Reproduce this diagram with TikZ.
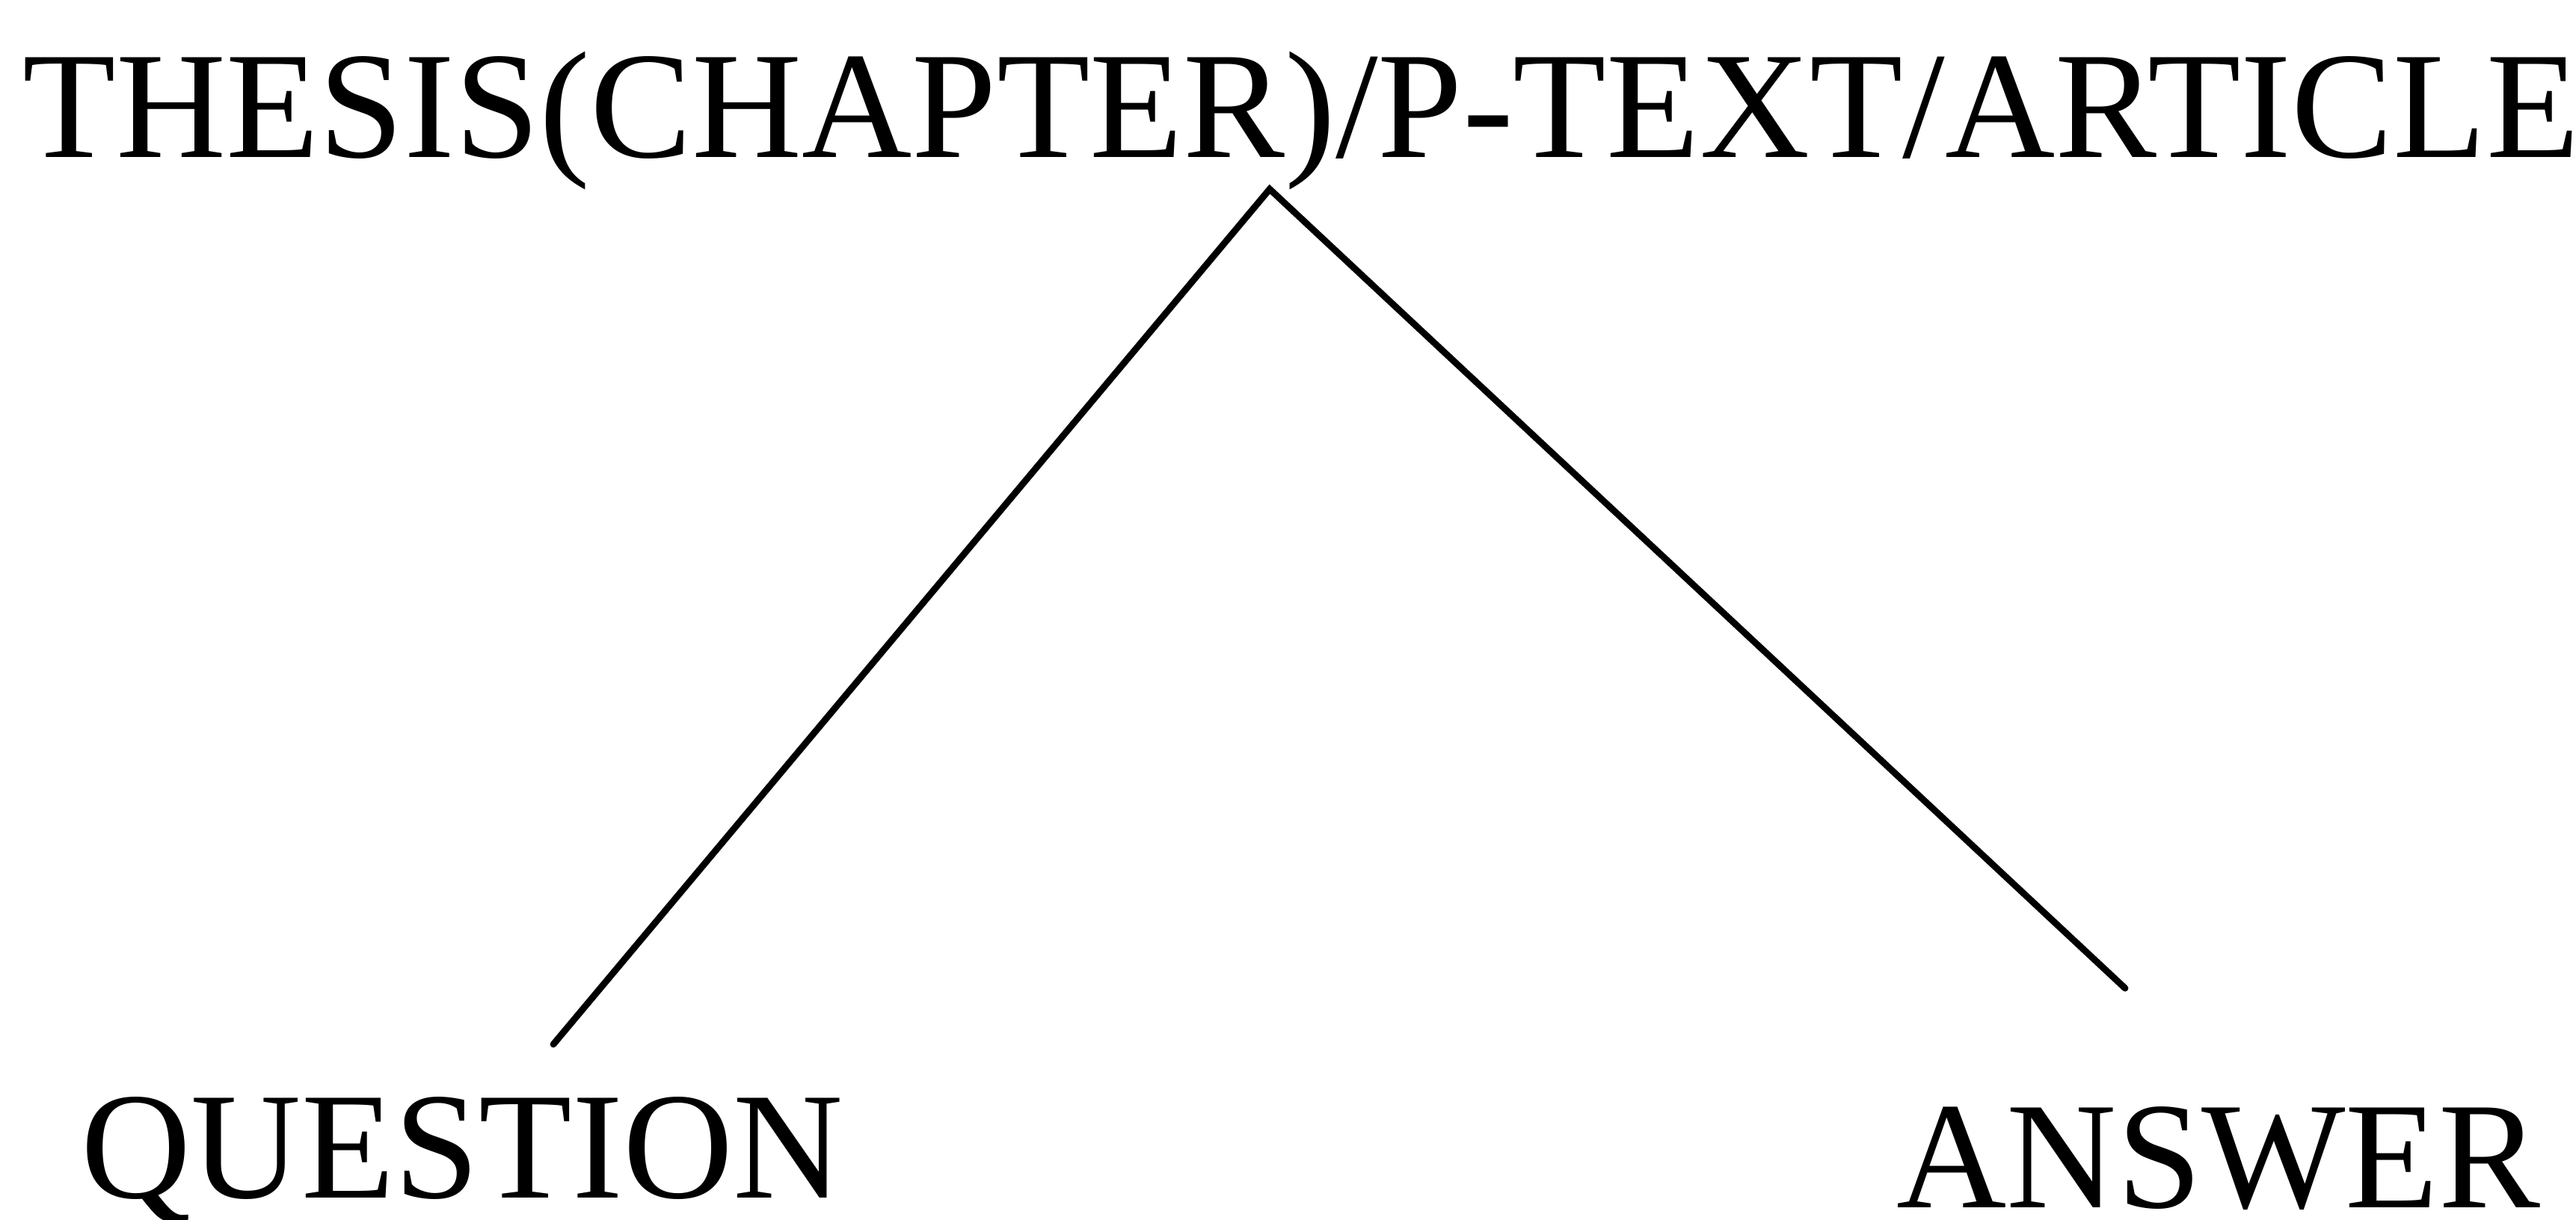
\documentclass[tikz,border=0pt]{standalone}
\usepackage{fontspec}
\setmainfont{Liberation Serif}
\usetikzlibrary{positioning}

\begin{document}
\begin{tikzpicture}[
  every node/.style={inner sep=0pt,anchor=base west,font=\fontsize{58}{60}\selectfont},
  edge/.style={line width=2.5pt,line cap=round}
]
\useasboundingbox (0,0) rectangle (34.45,16.31);
\node (thesis) at (0.30,14.20) {THESIS(CHAPTER)/P-TEXT/ARTICLE};
\node (quest) at (1.08,0.29) {QUESTION};
\node (answ) at (25.36,0.16) {ANSWER};
\coordinate (apex) at (16.98,13.78);
\coordinate (qend) at (7.40,2.34);
\coordinate (aend) at (28.42,3.09);
\draw[edge] (qend)--(apex)--(aend);
\end{tikzpicture}
\end{document}
